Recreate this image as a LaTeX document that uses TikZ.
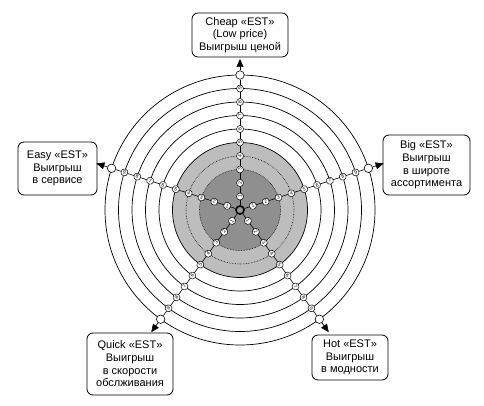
\documentclass[tikz,border=0pt]{standalone}
\usepackage{fontspec}
\setmainfont{Liberation Sans}
\usetikzlibrary{arrows.meta,calc}
\pgfdeclarelayer{bg}
\pgfsetlayers{bg,main}
\begin{document}
\begin{tikzpicture}[x=1pt,y=1pt,
  lab/.style={draw, rounded corners=6pt, align=center, font=\fontsize{11}{12.7}\selectfont, inner sep=2pt, line width=0.8pt},
  num/.style={circle, draw, fill=white, inner sep=0pt, minimum size=7pt, line width=0.5pt, font=\fontsize{5}{5}\selectfont},
  endc/.style={circle, draw, fill=white, minimum size=8.5pt, inner sep=0pt, line width=0.6pt},
  ring/.style={line width=0.7pt},
  arr/.style={-{Triangle[length=8pt,width=7pt]}, line width=0.7pt}]
\useasboundingbox (0,-406) rectangle (484,0);
\coordinate (c) at (240,-210);
\begin{pgfonlayer}{bg}
  \fill[black!26] (c) circle[radius=67.5pt];
  \draw[ring] (c) circle[radius=67.5pt];
  \draw[densely dotted, line width=0.6pt] (c) circle[radius=54pt];
  \fill[black!44] (c) circle[radius=40.5pt];
  \draw[densely dotted, line width=0.6pt] (c) circle[radius=40.5pt];
  \foreach \r in {81,94.5,108,121.5,135} \draw[ring] (c) circle[radius=\r pt];
\end{pgfonlayer}
\node[circle, draw, line width=1.6pt, fill=black!40, minimum size=8pt, inner sep=0pt] (ctr) at (c) {};
\foreach \a/\n/\rot in {90/t/90, 18/r/18, -54/hr/-54, -126/ql/54, 162/l/-18} {
  \foreach \i in {1,...,9} {
    \node[num, rotate=\rot] (n-\n-\i) at ($(c)+(\a:{13.5*\i})$) {\i};
  }
  \node[endc] (o-\n) at ($(c)+(\a:135)$) {};
  \coordinate (tip-\n) at ($(c)+(\a:151)$);
  \begin{pgfonlayer}{bg}
    \draw[line width=0.6pt] (ctr) -- (o-\n);
  \end{pgfonlayer}
  \draw[arr] (o-\n) -- (tip-\n);
}
\node[lab, minimum width=96pt, minimum height=44pt] (cheap) at (240,-35) {Cheap «EST»\\(Low price)\\Выигрыш ценой};
\node[lab, minimum width=79pt, minimum height=53pt] (easy) at (57.5,-168.5) {Easy «EST»\\Выигрыш\\в сервисе};
\node[lab, minimum width=87pt, minimum height=60pt] (big) at (426.5,-165) {Big «EST»\\Выигрыш\\в широте\\ассортимента};
\node[lab, minimum width=86pt, minimum height=62pt] (quick) at (130,-364) {Quick «EST»\\Выигрыш\\в скорости\\обслживания};
\node[lab, minimum width=76pt, minimum height=45pt] (hot) at (350,-357.5) {Hot «EST»\\Выигрыш\\в модности};
\end{tikzpicture}
\end{document}
